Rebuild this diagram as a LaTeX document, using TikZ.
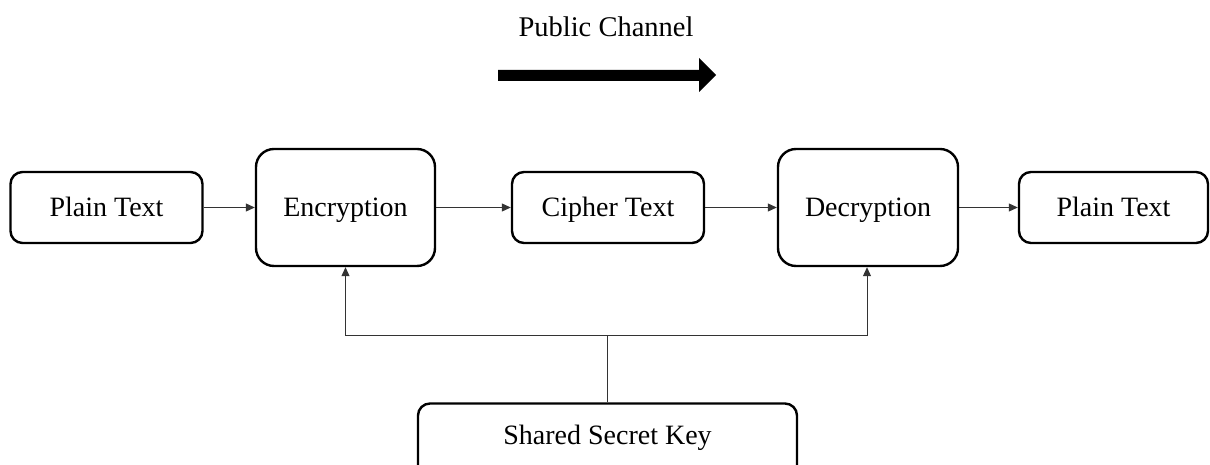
\documentclass[tikz,border=0pt]{standalone}
\usepackage{fontspec}
\setmainfont{Liberation Serif}
\usetikzlibrary{arrows.meta}
\begin{document}
\begin{tikzpicture}[x=1pt,y=1pt,
  txt/.style={font=\fontsize{28}{32}\selectfont, text height=24pt, text depth=5.4pt, inner sep=0pt},
  box/.style={txt, draw=black, line width=2.4pt, rounded corners=12pt, align=center},
  bigbox/.style={box, rounded corners=18pt},
  conn/.style={draw=black!80, line width=1pt, -{Triangle[length=9pt,width=8pt]}},
  line/.style={draw=black!80, line width=1pt}]
\useasboundingbox (0,0) rectangle (1210,465);
\clip (0,0) rectangle (1210,465);
\node[txt, font=\fontsize{28.5}{32}\selectfont] (pc) at (606,437.5) {Public Channel};
\fill (498,395) -- (699,395) -- (699,407) -- (716,390) -- (699,373) -- (699,384) -- (498,384) -- cycle;
\node[box, minimum width=192pt, minimum height=71pt] (p1) at (106.5,257.5) {Plain Text};
\node[bigbox, minimum width=179pt, minimum height=117pt] (enc) at (345.5,257.5) {Encryption};
\node[box, minimum width=192pt, minimum height=71pt] (ct) at (608,257.5) {Cipher Text};
\node[bigbox, minimum width=180pt, minimum height=117pt] (dec) at (868,257.5) {Decryption};
\node[box, minimum width=189pt, minimum height=71pt] (p2) at (1113.5,257.5) {Plain Text};
\node[box, minimum width=379pt, minimum height=78pt] (key) at (607.5,22.5) {};
\node[txt] (keyt) at (607.5,29.5) {Shared Secret Key};
\draw[conn] (p1.east) -- (enc.west);
\draw[conn] (enc.east) -- (ct.west);
\draw[conn] (ct.east) -- (dec.west);
\draw[conn] (dec.east) -- (p2.west);
\coordinate (j) at (607.5,129);
\draw[line] (key.north -| j) -- (j);
\draw[conn] (j) -| (enc.south);
\draw[conn] (j) -| ([xshift=-1pt]dec.south);
\end{tikzpicture}
\end{document}
